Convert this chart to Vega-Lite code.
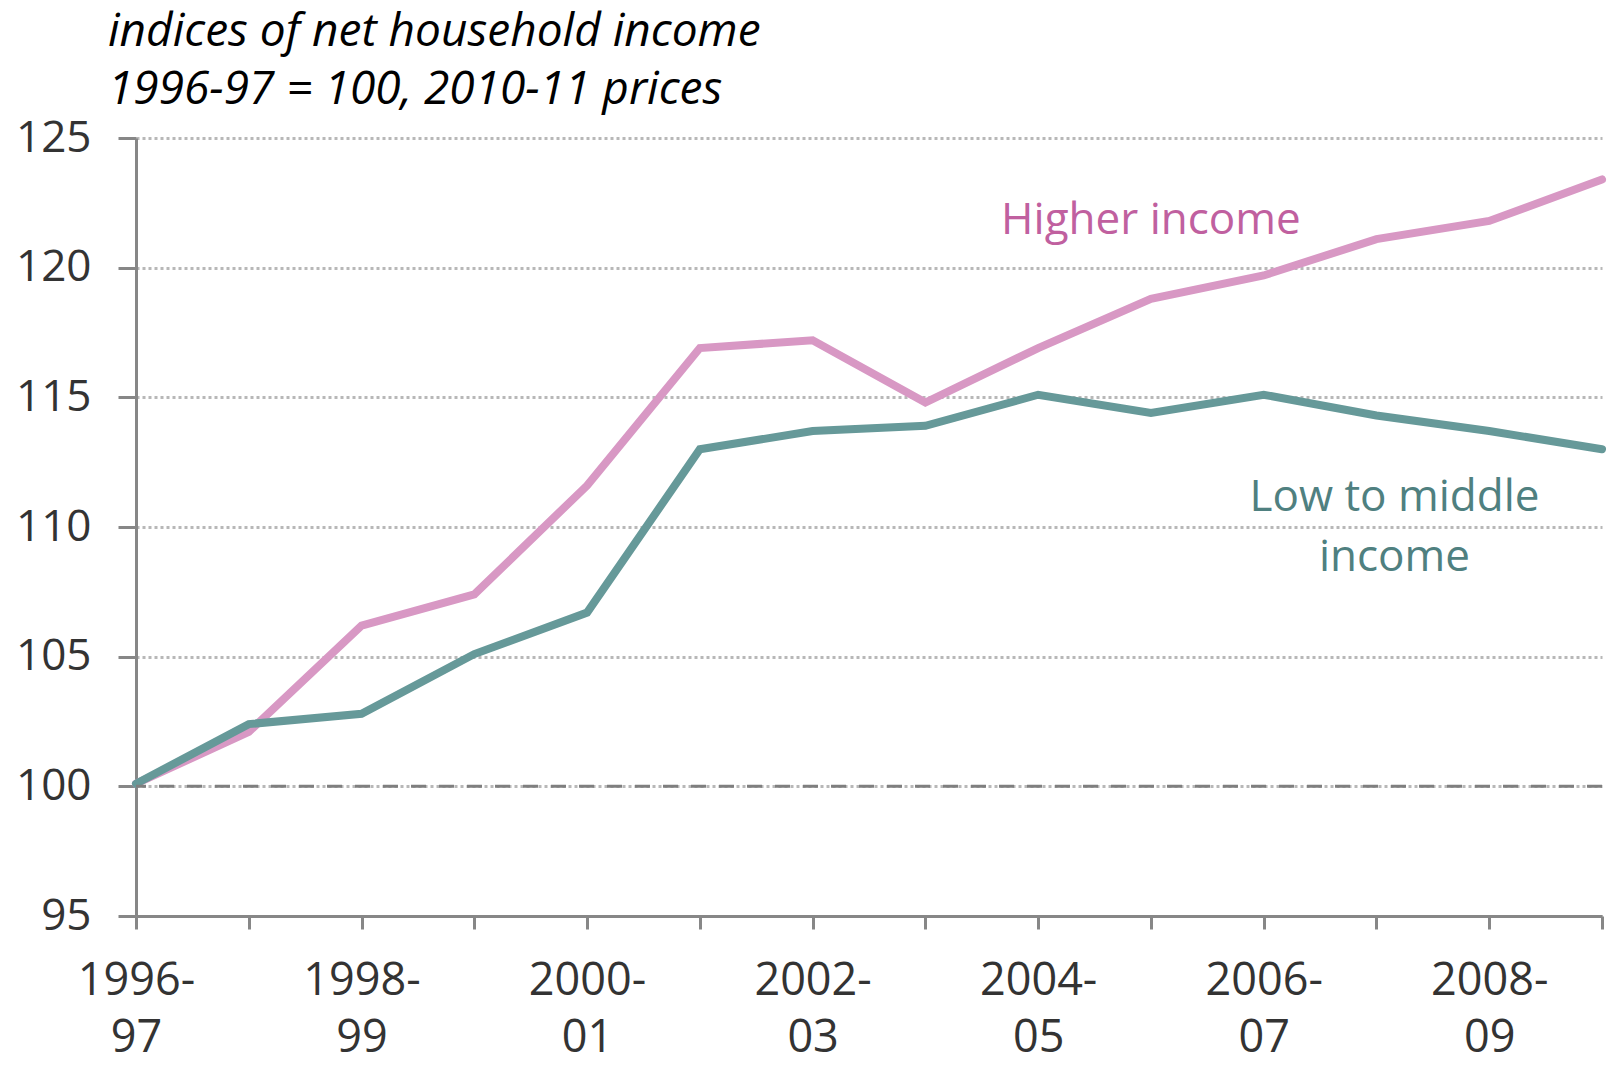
{
  "$schema": "https://vega.github.io/schema/vega-lite/v6.json",
  "autosize": {"type": "none"},
  "padding": {"left": 136, "top": 138, "right": 6, "bottom": 151},
  "width": 1466,
  "height": 778,
  "background": "white",
  "config": {
    "font": "Open Sans",
    "view": {"stroke": null}
  },
  "title": {
    "text": ["indices of net household income", "1996-97 = 100, 2010-11 prices"],
    "anchor": "start",
    "frame": "group",
    "dx": -28,
    "offset": -44,
    "baseline": "bottom",
    "font": "Open Sans",
    "fontStyle": "italic",
    "fontWeight": "normal",
    "fontSize": 46,
    "lineHeight": 58,
    "color": "#000000"
  },
  "datasets": {
    "series": [
      {"year": "1996-97", "group": "Higher income", "value": 100.1},
      {"year": "1997-98", "group": "Higher income", "value": 102.1},
      {"year": "1998-99", "group": "Higher income", "value": 106.2},
      {"year": "1999-00", "group": "Higher income", "value": 107.4},
      {"year": "2000-01", "group": "Higher income", "value": 111.6},
      {"year": "2001-02", "group": "Higher income", "value": 116.9},
      {"year": "2002-03", "group": "Higher income", "value": 117.2},
      {"year": "2003-04", "group": "Higher income", "value": 114.8},
      {"year": "2004-05", "group": "Higher income", "value": 116.9},
      {"year": "2005-06", "group": "Higher income", "value": 118.8},
      {"year": "2006-07", "group": "Higher income", "value": 119.7},
      {"year": "2007-08", "group": "Higher income", "value": 121.1},
      {"year": "2008-09", "group": "Higher income", "value": 121.8},
      {"year": "2009-10", "group": "Higher income", "value": 123.4},
      {"year": "1996-97", "group": "Low to middle income", "value": 100.1},
      {"year": "1997-98", "group": "Low to middle income", "value": 102.4},
      {"year": "1998-99", "group": "Low to middle income", "value": 102.8},
      {"year": "1999-00", "group": "Low to middle income", "value": 105.1},
      {"year": "2000-01", "group": "Low to middle income", "value": 106.7},
      {"year": "2001-02", "group": "Low to middle income", "value": 113.0},
      {"year": "2002-03", "group": "Low to middle income", "value": 113.7},
      {"year": "2003-04", "group": "Low to middle income", "value": 113.9},
      {"year": "2004-05", "group": "Low to middle income", "value": 115.1},
      {"year": "2005-06", "group": "Low to middle income", "value": 114.4},
      {"year": "2006-07", "group": "Low to middle income", "value": 115.1},
      {"year": "2007-08", "group": "Low to middle income", "value": 114.3},
      {"year": "2008-09", "group": "Low to middle income", "value": 113.7},
      {"year": "2009-10", "group": "Low to middle income", "value": 113.0}
    ]
  },
  "layer": [
    {
      "data": {"name": "series"},
      "mark": {"type": "line", "strokeWidth": 8, "strokeCap": "round"},
      "encoding": {
        "x": {
          "field": "year", "type": "ordinal",
          "scale": {"type": "point", "padding": 0},
          "axis": {
            "title": null,
            "labelAngle": 0,
            "labelExpr": "toNumber(slice(datum.label,0,4)) % 2 == 0 ? [slice(datum.label,0,5), slice(datum.label,5)] : ''",
            "labelFontSize": 45,
            "labelLineHeight": 57,
            "labelColor": "#333333",
            "labelPadding": 29,
            "labelBaseline": "top",
            "domainColor": "#878787",
            "domainWidth": 3,
            "tickColor": "#878787",
            "tickWidth": 3,
            "tickSize": 13,
            "grid": false
          }
        },
        "y": {
          "field": "value", "type": "quantitative",
          "scale": {"domain": [95, 125], "nice": false, "zero": false},
          "axis": {
            "title": null,
            "values": [95, 100, 105, 110, 115, 120, 125],
            "labelFontSize": 44,
            "labelColor": "#333333",
            "labelPadding": 27,
            "domainColor": "#878787",
            "domainWidth": 3,
            "tickColor": "#878787",
            "tickWidth": 3,
            "tickSize": 18,
            "grid": true,
            "gridColor": "#b8b8b8",
            "gridWidth": 3,
            "gridDash": [3, 3]
          }
        },
        "color": {
          "field": "group", "type": "nominal",
          "scale": {"domain": ["Higher income", "Low to middle income"], "range": ["#d898c4", "#669999"]},
          "legend": null
        }
      }
    },
    {
      "data": {"values": [{"ref": 100}]},
      "mark": {"type": "rule", "color": "#7f7f7f", "strokeWidth": 3, "strokeDash": [15, 13]},
      "encoding": {"y": {"field": "ref", "type": "quantitative"}}
    },
    {
      "data": {"values": [{"year": "2005-06", "value": 121.8, "label": "Higher income"}]},
      "mark": {"type": "text", "fontSize": 44, "color": "#c0609f", "align": "center", "baseline": "middle"},
      "encoding": {
        "x": {"field": "year", "type": "ordinal"},
        "y": {"field": "value", "type": "quantitative"},
        "text": {"field": "label"}
      }
    },
    {
      "data": {"values": [{"year": "2007-08", "value": 111.1, "label": ["Low to middle", "income"]}]},
      "mark": {"type": "text", "fontSize": 44, "color": "#4f8080", "align": "center", "baseline": "middle", "lineHeight": 60, "dx": 18},
      "encoding": {
        "x": {"field": "year", "type": "ordinal"},
        "y": {"field": "value", "type": "quantitative"},
        "text": {"field": "label"}
      }
    }
  ]
}
